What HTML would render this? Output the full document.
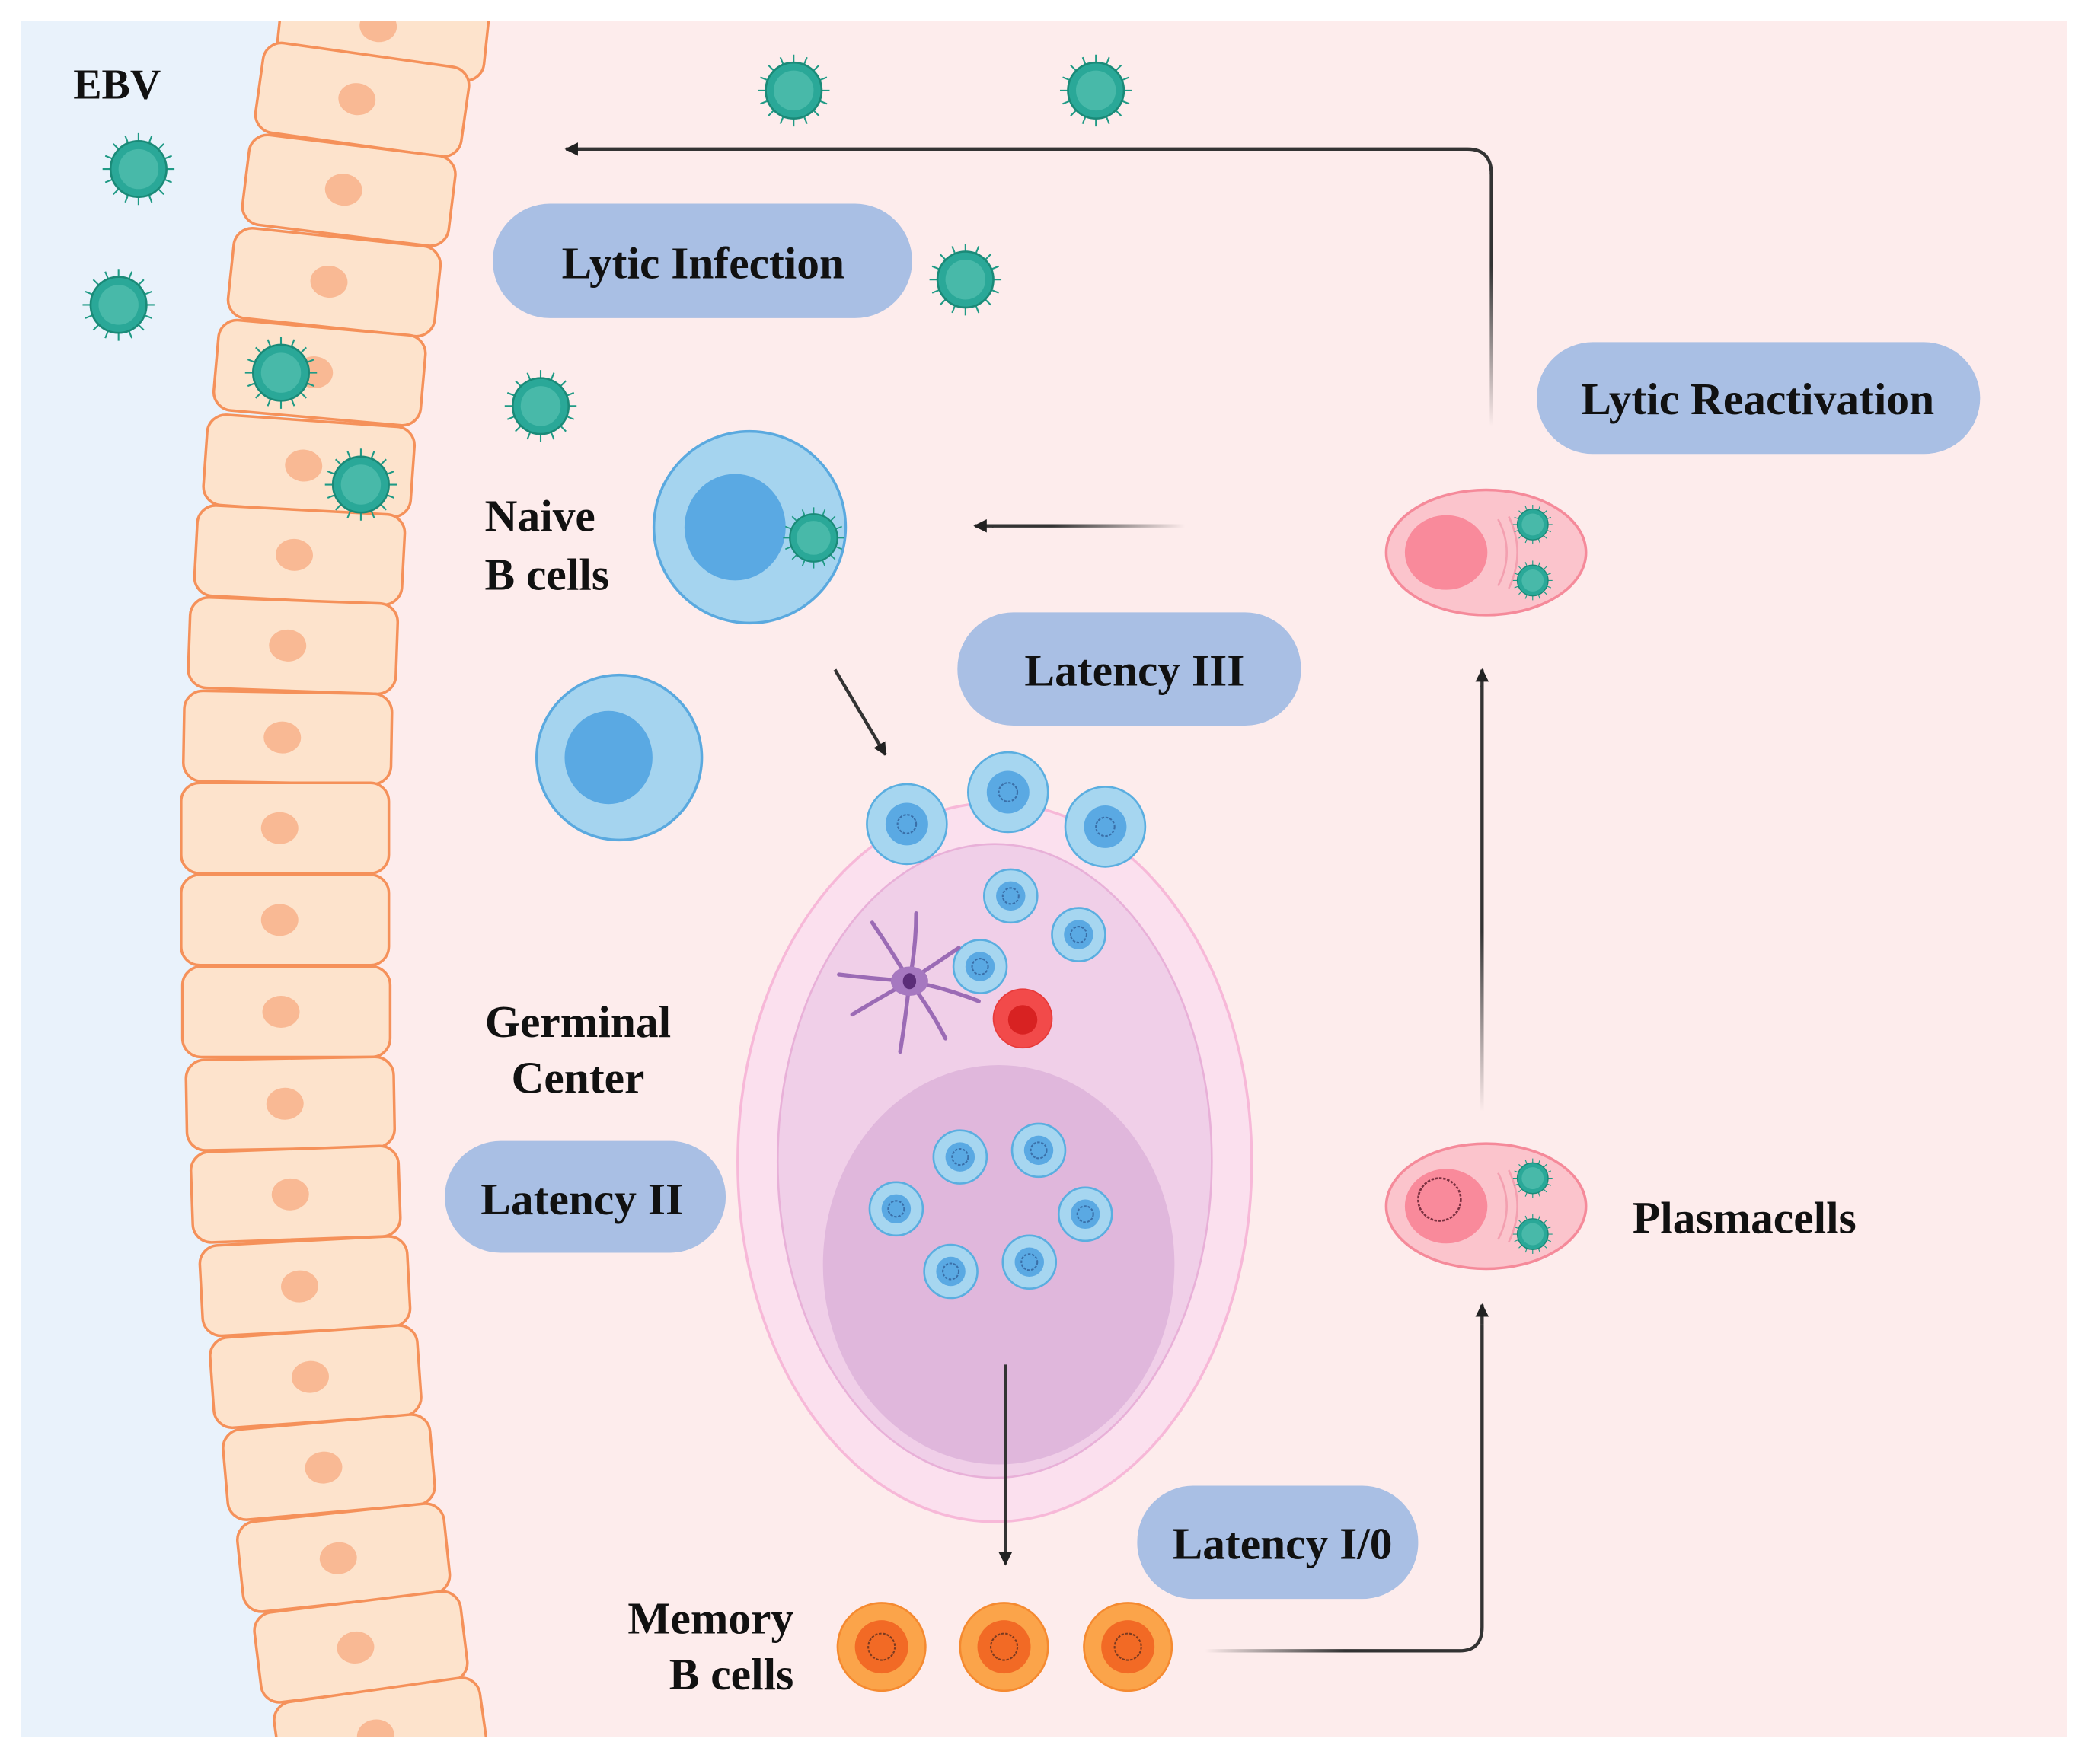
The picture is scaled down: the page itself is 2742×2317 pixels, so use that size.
<!DOCTYPE html>
<html><head><meta charset="utf-8"><style>
html,body{margin:0;padding:0;background:#fff}
svg{display:block}
text{font-family:"Liberation Serif",serif;font-weight:bold;fill:#111}
</style></head><body>
<svg width="2742" height="2317" viewBox="0 0 1568 1325" xmlns="http://www.w3.org/2000/svg">
<defs>
<g id="v">
<g stroke="#1f9a85" stroke-width="1.2">
<line x1="0" y1="-27" x2="0" y2="27"/><line x1="-27" y1="0" x2="27" y2="0"/>
<line x1="-19" y1="-19" x2="19" y2="19"/><line x1="-19" y1="19" x2="19" y2="-19"/>
<line x1="-10" y1="-25" x2="10" y2="25"/><line x1="-25" y1="-10" x2="25" y2="10"/>
<line x1="10" y1="-25" x2="-10" y2="25"/><line x1="-25" y1="10" x2="25" y2="-10"/>
</g>
<circle r="21" fill="#2aa898"/>
<circle r="15" fill="#5ec4b4" opacity="0.6"/>
<circle r="21" fill="none" stroke="#1a8a78" stroke-width="1.5"/>
</g>
<g id="sc"><circle r="20" fill="#a6d6f0" stroke="#5aaee0" stroke-width="1.5"/><circle r="11" fill="#5aa9e3"/><circle r="6" fill="none" stroke="#3a6fa8" stroke-width="1.2" stroke-dasharray="2 1"/></g>
<g id="bc"><circle r="30" fill="#a6d6f0" stroke="#5aaee0" stroke-width="1.5"/><circle r="16" fill="#5aa9e3"/><circle r="7" fill="none" stroke="#3a6fa8" stroke-width="1.2" stroke-dasharray="2 1"/></g>
<g id="mc"><circle r="33" fill="#fba44a" stroke="#f58a30" stroke-width="1.5"/><circle r="20" fill="#f26a25"/><circle r="10" fill="none" stroke="#7a3a20" stroke-width="1.2" stroke-dasharray="2 1"/></g>
<g id="ec"><rect x="-78" y="-34" width="156" height="68" rx="14" fill="#fde3cc" stroke="#f5915a" stroke-width="2"/><ellipse cx="-4" cy="0" rx="14" ry="12" fill="#f9b994"/></g>
<linearGradient id="g1" gradientUnits="userSpaceOnUse" x1="1120" y1="320" x2="1120" y2="200"><stop offset="0" stop-color="#333" stop-opacity="0"/><stop offset="1" stop-color="#333" stop-opacity="1"/></linearGradient>
<linearGradient id="g2" gradientUnits="userSpaceOnUse" x1="890" y1="395" x2="790" y2="395"><stop offset="0" stop-color="#333" stop-opacity="0"/><stop offset="1" stop-color="#333"/></linearGradient>
<linearGradient id="g3" gradientUnits="userSpaceOnUse" x1="905" y1="1240" x2="1010" y2="1240"><stop offset="0" stop-color="#333" stop-opacity="0"/><stop offset="1" stop-color="#333"/></linearGradient>
<linearGradient id="g4" gradientUnits="userSpaceOnUse" x1="1113" y1="835" x2="1113" y2="700"><stop offset="0" stop-color="#333" stop-opacity="0"/><stop offset="1" stop-color="#333"/></linearGradient>
<marker id="ah" viewBox="0 0 10 10" refX="9" refY="5" markerWidth="10" markerHeight="10" markerUnits="userSpaceOnUse" orient="auto"><path d="M0,0 L10,5 L0,10 z" fill="#222"/></marker>
</defs>
<rect x="16" y="16" width="1536" height="1289" fill="#fdecec"/>
<path d="M16,16 L290,16 Q200,300 205,690 Q210,1000 290,1305 L16,1305 Z" fill="#e9f2fb"/>
<g>
<use href="#ec" transform="translate(288,20) rotate(6)"/>
<use href="#ec" transform="translate(272,75) rotate(8)"/>
<use href="#ec" transform="translate(262,143) rotate(7)"/>
<use href="#ec" transform="translate(251,212) rotate(6)"/>
<use href="#ec" transform="translate(240,280) rotate(5)"/>
<use href="#ec" transform="translate(232,350) rotate(4)"/>
<use href="#ec" transform="translate(225,417) rotate(3)"/>
<use href="#ec" transform="translate(220,485) rotate(2)"/>
<use href="#ec" transform="translate(216,554) rotate(1)"/>
<use href="#ec" transform="translate(214,622)"/>
<use href="#ec" transform="translate(214,691)"/>
<use href="#ec" transform="translate(215,760)"/>
<use href="#ec" transform="translate(218,829) rotate(-1)"/>
<use href="#ec" transform="translate(222,897) rotate(-2)"/>
<use href="#ec" transform="translate(229,966) rotate(-3)"/>
<use href="#ec" transform="translate(237,1034) rotate(-4)"/>
<use href="#ec" transform="translate(247,1102) rotate(-5)"/>
<use href="#ec" transform="translate(258,1170) rotate(-6)"/>
<use href="#ec" transform="translate(271,1237) rotate(-7)"/>
<use href="#ec" transform="translate(286,1303) rotate(-8)"/>
</g>
<rect x="0" y="0" width="1568" height="16" fill="#fff"/>
<rect x="0" y="1305" width="1568" height="20" fill="#fff"/>
<use href="#v" x="596" y="68"/><use href="#v" x="823" y="68"/><use href="#v" x="104" y="127"/>
<use href="#v" x="89" y="229"/><use href="#v" x="211" y="280"/><use href="#v" x="271" y="364"/>
<use href="#v" x="725" y="210"/><use href="#v" x="406" y="305"/>
<text x="55" y="74" font-size="32">EBV</text>
<g fill="#a9bfe4">
<rect x="370" y="153" width="315" height="86" rx="43"/>
<rect x="1154" y="257" width="333" height="84" rx="42"/>
<rect x="719" y="460" width="258" height="85" rx="42"/>
<rect x="334" y="857" width="211" height="84" rx="42"/>
<rect x="854" y="1116" width="211" height="85" rx="42"/>
</g>
<g font-size="34" text-anchor="middle">
<text x="528" y="209">Lytic Infection</text>
<text x="1320" y="311">Lytic Reactivation</text>
<text x="852" y="515">Latency III</text>
<text x="437" y="912">Latency II</text>
<text x="963" y="1171">Latency I/0</text>
</g>
<g font-size="34">
<text x="364" y="399">Naive</text><text x="364" y="443">B cells</text>
<text x="434" y="779" text-anchor="middle">Germinal</text><text x="434" y="821" text-anchor="middle">Center</text>
<text x="596" y="1227" text-anchor="end">Memory</text><text x="596" y="1269" text-anchor="end">B cells</text>
<text x="1226" y="926">Plasmacells</text>
</g>
<circle cx="563" cy="396" r="72" fill="#a5d4ef" stroke="#5aa9df" stroke-width="2"/>
<ellipse cx="552" cy="396" rx="38" ry="40" fill="#5aa9e3"/>
<use href="#v" transform="translate(611,404) scale(0.85)"/>
<circle cx="465" cy="569" r="62" fill="#a5d4ef" stroke="#5aa9df" stroke-width="2"/>
<ellipse cx="457" cy="569" rx="33" ry="35" fill="#5aa9e3"/>
<line x1="1120" y1="320" x2="1120" y2="130" stroke="url(#g1)" stroke-width="2.5"/>
<path d="M1120,131 Q1120,112 1102,112 L425,112" fill="none" stroke="#333" stroke-width="2.5" marker-end="url(#ah)"/>
<line x1="890" y1="395" x2="745" y2="395" stroke="url(#g2)" stroke-width="2.5"/>
<path d="M746,395 L732,395" stroke="#333" stroke-width="2.5" marker-end="url(#ah)"/>
<line x1="627" y1="503" x2="665" y2="567" stroke="#333" stroke-width="2.5" marker-end="url(#ah)"/>
<ellipse cx="747" cy="873" rx="193" ry="270" fill="#fbe0ee" stroke="#f7b8d8" stroke-width="2"/>
<ellipse cx="747" cy="872" rx="163" ry="238" fill="#f0cfe8" stroke="#e8b0d8" stroke-width="1.5"/>
<ellipse cx="750" cy="950" rx="132" ry="150" fill="#e0b7dc"/>
<use href="#bc" x="681" y="619"/><use href="#bc" x="757" y="595"/><use href="#bc" x="830" y="621"/>
<use href="#sc" x="759" y="673"/><use href="#sc" x="810" y="702"/><use href="#sc" x="736" y="726"/>
<circle cx="768" cy="765" r="22" fill="#f24a4a" stroke="#e83a3a"/><circle cx="768" cy="766" r="11" fill="#d82222"/>
<use href="#sc" x="721" y="869"/><use href="#sc" x="780" y="864"/><use href="#sc" x="673" y="908"/>
<use href="#sc" x="815" y="912"/><use href="#sc" x="714" y="955"/><use href="#sc" x="773" y="948"/>
<g stroke="#9b6bb5" stroke-width="3" fill="none" stroke-linecap="round">
<path d="M683,737 Q670,715 655,693"/><path d="M683,737 Q688,710 688,686"/><path d="M683,737 Q705,722 720,712"/>
<path d="M683,737 Q710,742 735,752"/><path d="M683,737 Q700,760 710,780"/><path d="M683,737 Q680,765 676,790"/>
<path d="M683,737 Q660,750 640,762"/><path d="M683,737 Q655,735 630,732"/>
</g>
<ellipse cx="683" cy="737" rx="14" ry="11" fill="#a678c0"/><ellipse cx="683" cy="737" rx="5" ry="6" fill="#5b2d78"/>
<line x1="755" y1="1025" x2="755" y2="1175" stroke="#333" stroke-width="2.5" marker-end="url(#ah)"/>
<use href="#mc" x="662" y="1237"/><use href="#mc" x="754" y="1237"/><use href="#mc" x="847" y="1237"/>
<path d="M905,1240 L1096,1240 Q1113,1240 1113,1222 L1113,995" fill="none" stroke="url(#g3)" stroke-width="2.5"/>
<path d="M1113,995 L1113,980" stroke="#333" stroke-width="2.5" marker-end="url(#ah)"/>
<line x1="1113" y1="835" x2="1113" y2="515" stroke="url(#g4)" stroke-width="2.5"/>
<path d="M1113,516 L1113,503" stroke="#333" stroke-width="2.5" marker-end="url(#ah)"/>
<g>
<ellipse cx="1116" cy="415" rx="75" ry="47" fill="#fbc4cc" stroke="#f58a9a" stroke-width="2"/>
<ellipse cx="1086" cy="415" rx="31" ry="28" fill="#f98a9b"/>
<path d="M1125,390 Q1138,415 1125,440 M1133,388 Q1146,415 1133,442" stroke="#f3a0b0" stroke-width="1.5" fill="none"/>
<use href="#v" transform="translate(1151,394) scale(0.55)"/><use href="#v" transform="translate(1151,436) scale(0.55)"/>
</g>
<g>
<ellipse cx="1116" cy="906" rx="75" ry="47" fill="#fbc4cc" stroke="#f58a9a" stroke-width="2"/>
<ellipse cx="1086" cy="906" rx="31" ry="28" fill="#f98a9b"/>
<circle cx="1081" cy="901" r="16" fill="none" stroke="#7a3040" stroke-width="1.5" stroke-dasharray="2 1"/>
<path d="M1125,881 Q1138,906 1125,931 M1133,879 Q1146,906 1133,933" stroke="#f3a0b0" stroke-width="1.5" fill="none"/>
<use href="#v" transform="translate(1151,885) scale(0.55)"/><use href="#v" transform="translate(1151,927) scale(0.55)"/>
</g>
</svg>
</body></html>
